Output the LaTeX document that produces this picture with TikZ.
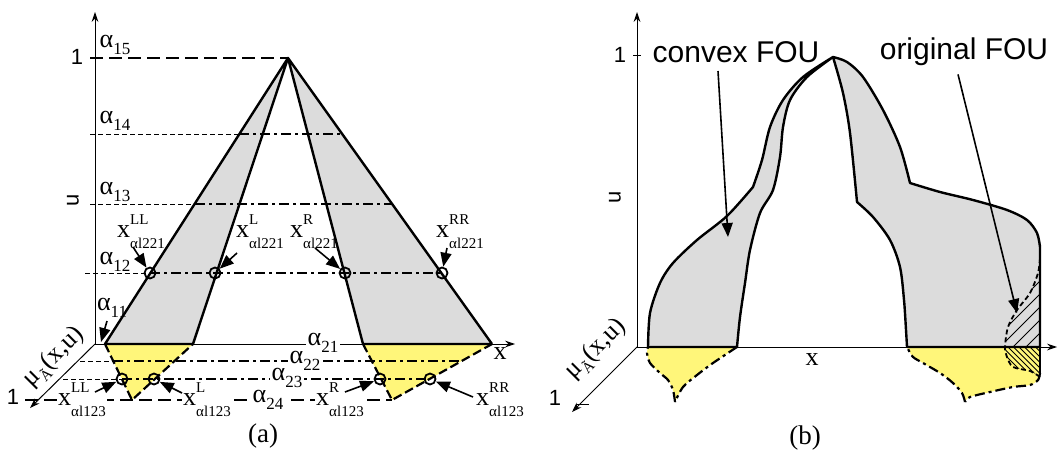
\documentclass[tikz,border=0pt]{standalone}
\usepackage{fontspec}
\setmainfont{Liberation Serif}
\newfontfamily\sansf{Liberation Sans}
\usetikzlibrary{arrows.meta,calc}
\definecolor{fougray}{RGB}{220,220,220}
\definecolor{fouyellow}{RGB}{255,246,122}
\newcommand{\alab}[1]{α\raisebox{-0.55ex}{\fontsize{8.5}{8.5}\selectfont #1}}
\newcommand{\xlab}[2]{x\rlap{\raisebox{1.05ex}{\fontsize{7.5}{7.5}\selectfont #1}}\raisebox{-0.95ex}{\fontsize{7.5}{7.5}\selectfont #2}}
\newcommand{\mulab}{μ\raisebox{-0.5ex}{\fontsize{7.5}{7.5}\selectfont Ã}(x,u)}
\tikzset{
axis/.style={line width=0.5pt,-{Stealth[length=5pt,width=3.4pt]}},
fouline/.style={line width=1.2pt,line join=round},
graysheet/.style={fill=fougray},
yellowsheet/.style={fill=fouyellow},
cutline/.style={line width=1.2pt,dash pattern=on 5pt off 2pt on 1.5pt off 2pt},
guide/.style={line width=0.5pt,dash pattern=on 2.5pt off 1.5pt},
longdash/.style={line width=0.6pt,dash pattern=on 6.5pt off 3pt},
yedge/.style={line width=1.1pt,dash pattern=on 4.5pt off 2pt},
yedgeb/.style={line width=1.1pt,dash pattern=on 5pt off 2pt on 1.5pt off 2pt},
origdash/.style={line width=0.9pt,dash pattern=on 2.5pt off 1.5pt},
hatch/.style={line width=0.4pt},
ptr/.style={line width=0.8pt,-{Triangle[length=7pt,width=5.5pt]}},
ring/.style={circle,draw,line width=0.9pt,minimum size=5.5pt,inner sep=0pt},
alph/.style={font=\fontsize{13}{13}\selectfont,inner sep=1pt},
onln/.style={alph,fill=white,inner sep=0.6pt},
xl/.style={font=\fontsize{13}{13}\selectfont,inner sep=1pt},
xlw/.style={xl,fill=white,inner sep=0.6pt},
tag/.style={font=\sansf\fontsize{11}{11}\selectfont,inner sep=0pt},
bigtag/.style={font=\sansf\fontsize{15}{15}\selectfont,inner sep=0pt},
capt/.style={font=\fontsize{13.5}{13.5}\selectfont,inner sep=0pt}
}
\begin{document}
\begin{tikzpicture}[x=0.5pt,y=-0.5pt]
\useasboundingbox (0,0) rectangle (1058,455);

% ---------- (a) ----------
\coordinate (apex) at (288,58);
\coordinate (bLL) at (105,344);
\coordinate (bL) at (193,344);
\coordinate (bR) at (363,344);
\coordinate (bRR) at (492,344);
\coordinate (tLL) at (132,400);
\coordinate (tRR) at (392,400);
\fill[graysheet] (apex) -- (bLL) -- (bL) -- cycle;
\fill[graysheet] (apex) -- (bR) -- (bRR) -- cycle;
\fill[yellowsheet] (bLL) -- (bL) -- (tLL) -- cycle;
\fill[yellowsheet] (bR) -- (bRR) -- (tRR) -- cycle;

% axes
\coordinate (oa) at (95,344);
\draw[axis] (oa) -- (95,12);
\draw[axis] (oa) -- (515,344);
\draw[axis] (oa) -- (30,408);

% alpha levels
\draw[longdash] (90,58) -- (apex);
\draw[guide] (90,134) -- (239,134);
\draw[cutline] (239,134) -- (342,134);
\draw[guide] (90,204) -- (195,204);
\draw[cutline] (195,204) -- (392,204);
\draw[guide] (85,273) -- (150,273);
\draw[cutline] (150,273) -- (441,273);
\draw[guide] (80,361) -- (113,361);
\draw[cutline] (113,361) -- (462,361);
\draw[guide] (63,379) -- (122,379);
\draw[cutline] (122,379) -- (430,379);
\draw[longdash] (25,400) -- (tRR);

% edges
\draw[fouline] (bL) -- (apex) -- (bLL) -- (bL);
\draw[fouline] (bRR) -- (apex) -- (bR) -- (bRR);
\draw[yedge] (bLL) -- (tLL) -- (bL);
\draw[yedge] (bR) -- (tRR) -- (bRR);

% points
\node[ring] (c12LL) at (150,273) {};
\node[ring] (c12L) at (215,273) {};
\node[ring] (c12R) at (345,273) {};
\node[ring] (c12RR) at (442,273) {};
\node[ring] (c23LL) at (122,379) {};
\node[ring] (c23L) at (154,379) {};
\node[ring] (c23R) at (380,379) {};
\node[ring] (c23RR) at (430,379) {};

% labels
\node[tag] (one1) at (77,57) {1};
\node[tag,rotate=90] (ua) at (73,200) {u};
\node[tag] (oneM1) at (13,397) {1};
\node[alph] (a15) at (115,45) {\alab{15}};
\node[alph] (a14) at (115,121) {\alab{14}};
\node[alph] (a13) at (115,192) {\alab{13}};
\node[alph] (a12) at (115,262) {\alab{12}};
\node[alph] (a11) at (112,308) {\alab{11}};
\node[onln] (a21) at (323,343) {\alab{21}};
\node[onln] (a22) at (305,361) {\alab{22}};
\node[onln] (a23) at (287,378) {\alab{23}};
\node[onln] (a24) at (268,400) {\alab{24}};
\node[xl] (xa) at (500,354) {x};
\node[xl,rotate=45] (mua) at (54,357) {\mulab};
\node[xl] (l12LL) at (141,232) {\xlab{LL}{αl221}};
\node[xl] (l12L) at (260,232) {\xlab{L}{αl221}};
\node[xl] (l12R) at (314,232) {\xlab{R}{αl221}};
\node[xl] (l12RR) at (460,232) {\xlab{RR}{αl221}};
\node[xlw] (l23LL) at (82,400) {\xlab{LL}{αl123}};
\node[xlw] (l23L) at (207,400) {\xlab{L}{αl123}};
\node[xlw] (l23R) at (340,400) {\xlab{R}{αl123}};
\node[xl] (l23RR) at (500,400) {\xlab{RR}{αl123}};
\node[capt] (capa) at (263,436) {(a)};

% pointers
\coordinate (s11) at (107,321);
\coordinate (t11) at (101,342);
\coordinate (s12LL) at (133,247);
\coordinate (s12L) at (237,253);
\coordinate (s12R) at (315,248);
\coordinate (s12RR) at (447,248);
\coordinate (s23LL) at (95,392);
\coordinate (s23L) at (182,393);
\coordinate (s23R) at (345,392);
\coordinate (s23RR) at (473,397);
\draw[ptr] (s11) -- (t11);
\draw[ptr] (s12LL) -- (c12LL);
\draw[ptr] (s12L) -- (c12L);
\draw[ptr] (s12R) -- (c12R);
\draw[ptr] (s12RR) -- (c12RR);
\draw[ptr] (s23LL) -- (c23LL);
\draw[ptr] (s23L) -- (c23L);
\draw[ptr] (s23R) -- (c23R);
\draw[ptr] (s23RR) -- (c23RR);

% ---------- (b) ----------
\coordinate (ob) at (637,347);

% yellow projections
\filldraw[yellowsheet,draw=none] (648,347) -- (737,347)
  -- plot[smooth] coordinates {(737,347) (713,363) (697,375) (683,387) (675,402)}
  -- plot[smooth] coordinates {(675,402) (673,390) (668,380) (660,373) (650,363) (647,353) (648,347)} -- cycle;
\filldraw[yellowsheet,draw=none] (907,347) -- (1040,347) -- (1040,373)
  -- plot[smooth] coordinates {(1040,373) (1038,380) (1030,385) (1013,387) (990,392) (970,397) (965,402)}
  -- plot[smooth] coordinates {(965,402) (962,393) (953,383) (940,373) (923,363) (913,357) (908,349) (907,347)} -- cycle;
\draw[yedgeb] plot[smooth] coordinates {(737,347) (713,363) (697,375) (683,387) (675,402)};
\draw[yedgeb] plot[smooth] coordinates {(675,402) (673,390) (668,380) (660,373) (650,363) (647,353) (648,347)};
\draw[yedgeb] plot[smooth] coordinates {(1040,373) (1038,380) (1030,385) (1013,387) (990,392) (970,397) (965,402)};
\draw[yedgeb] plot[smooth] coordinates {(965,402) (962,393) (953,383) (940,373) (923,363) (913,357) (908,349) (907,347)};

% grey FOU
\filldraw[graysheet,fouline] (648,347)
  -- plot[smooth] coordinates {(648,347) (650,313) (660,283) (673,263) (697,240) (727,216) (753,187)}
  -- plot[smooth] coordinates {(753,187) (762,160) (770,127) (783,100) (803,77) (833,57)}
  -- plot[smooth] coordinates {(833,57) (847,62) (863,77) (883,110) (900,147) (910,183)}
  -- plot[smooth] coordinates {(910,183) (940,192) (973,200) (1007,210) (1027,220) (1037,233) (1040,247)}
  -- (1040,347) -- (907,347)
  -- plot[smooth] coordinates {(907,347) (906,330) (904,300) (900,267) (890,240) (873,217) (857,202)}
  -- plot[smooth] coordinates {(857,202) (850,133) (843,93) (833,57)}
  -- plot[smooth] coordinates {(833,57) (807,77) (790,100) (783,127) (780,157) (773,190) (760,213) (750,250) (745,283) (740,317) (737,347)}
  -- cycle;
\draw[fouline] (1040,347) -- (1040,373);

% hatching of the original FOU
\begin{scope}
\clip plot[smooth] coordinates {(1040,258) (1038,273) (1030,293) (1017,310) (1008,327) (1005,347)} -- (1040,347) -- cycle;
\foreach \k in {0,...,9}
  \draw[hatch] (935+\k*13,347) -- ++(90,-90);
\end{scope}
\begin{scope}
\clip plot[smooth] coordinates {(1005,347) (1007,357) (1013,367) (1030,371) (1040,377)} -- (1040,347) -- cycle;
\foreach \k in {0,...,12}
  \draw[hatch] (975+\k*5.5,347) -- ++(40,40);
\end{scope}
\draw[origdash] plot[smooth] coordinates {(1040,258) (1038,273) (1030,293) (1017,310) (1008,327) (1005,347) (1007,357) (1013,367) (1030,371) (1040,377)};

% axes
\draw[axis] (ob) -- (637,12);
\draw[axis] (ob) -- (1057,347);
\draw[axis] (ob) -- (572,412);
\draw[line width=0.5pt] (633,55) -- (641,55);
\draw[line width=0.5pt] (576,404) -- (589,404);

% labels
\node[tag] (one2) at (620,55) {1};
\node[tag,rotate=90] (ub) at (615,197) {u};
\node[tag] (oneM2) at (555,398) {1};
\node[xl] (xb) at (812,360) {x};
\node[xl,rotate=45] (mub) at (596,349) {\mulab};
\node[bigtag] (convex) at (736,52) {convex FOU};
\node[bigtag] (origfou) at (964,52) {original FOU};
\node[capt] (capb) at (805,438) {(b)};
\coordinate (cvxtip) at (728,237);
\coordinate (origtip) at (1017,313);
\draw[ptr] ([xshift=-9pt,yshift=-4pt]convex.south) -- (cvxtip);
\draw[ptr] ([xshift=-3pt,yshift=-4pt]origfou.south) -- (origtip);
\end{tikzpicture}
\end{document}
